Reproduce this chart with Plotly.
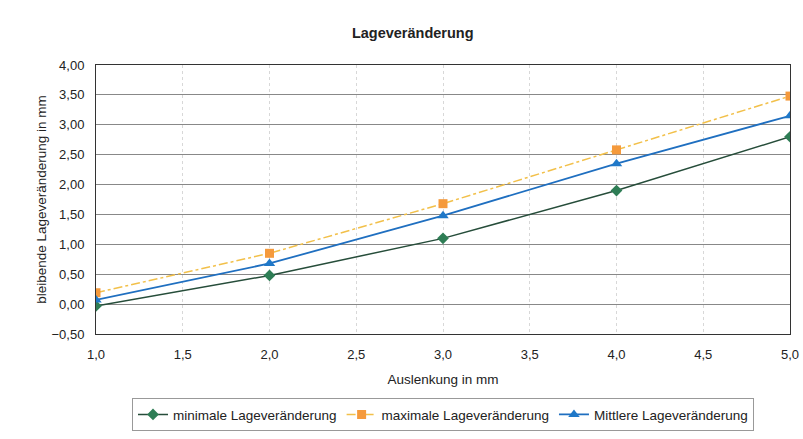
import plotly.graph_objects as go

auslenkung = [1.0, 2.0, 3.0, 4.0, 5.0]
minimal = [-0.03, 0.48, 1.10, 1.90, 2.80]
maximal = [0.19, 0.85, 1.68, 2.58, 3.48]
mittel = [0.07, 0.68, 1.48, 2.35, 3.15]

x_ticks = [1.0, 1.5, 2.0, 2.5, 3.0, 3.5, 4.0, 4.5, 5.0]
y_ticks = [-0.5, 0.0, 0.5, 1.0, 1.5, 2.0, 2.5, 3.0, 3.5, 4.0]

font = "Liberation Sans, Arial, sans-serif"

fig = go.Figure()
fig.add_trace(go.Scatter(
    x=auslenkung, y=minimal, name="minimale Lageveränderung", mode="lines+markers",
    line=dict(color="#264d3a", width=1.5),
    marker=dict(symbol="diamond", size=9, color="#2e7d55")))
fig.add_trace(go.Scatter(
    x=auslenkung, y=maximal, name="maximale Lageveränderung", mode="lines+markers",
    line=dict(color="#f2c04a", width=1.5, dash="dashdot"),
    marker=dict(symbol="square", size=9, color="#f59a3c")))
fig.add_trace(go.Scatter(
    x=auslenkung, y=mittel, name="Mittlere Lageveränderung", mode="lines+markers",
    line=dict(color="#1f6fc0", width=1.8),
    marker=dict(symbol="triangle-up", size=10, color="#1f78c8")))

fig.update_layout(
    width=803, height=439,
    margin=dict(l=96, r=13, t=65, b=105),
    paper_bgcolor="white", plot_bgcolor="white",
    separators=",.",
    font=dict(family=font, size=13, color="#222"),
    title=dict(text="<b>Lageveränderung</b>", x=0.514, xanchor="center",
               y=0.925, yanchor="middle", font=dict(size=14.5, color="#222")),
    showlegend=True,
    legend=dict(orientation="h", x=0.5, xanchor="center",
                yref="container", y=0.093, yanchor="top",
                bordercolor="#999", borderwidth=1, font=dict(size=13.5),
                tracegroupgap=0),
    xaxis=dict(range=[1.0, 5.0], tickvals=x_ticks, tickformat=".1f",
               showline=True, linecolor="#333", linewidth=1, mirror=True,
               showgrid=True, gridcolor="#d8d8d8", griddash="dot", gridwidth=1,
               ticks="", zeroline=False, automargin=False, ticklabelstandoff=8,
               tickfont=dict(size=13),
               title=dict(text="Auslenkung in mm", font=dict(size=13.5), standoff=13)),
    yaxis=dict(range=[-0.5, 4.0], tickvals=y_ticks, tickformat=".2f",
               showline=True, linecolor="#333", linewidth=1, mirror=True,
               showgrid=True, gridcolor="#888888", gridwidth=1,
               ticks="", zeroline=False, automargin=False, ticklabelstandoff=8,
               tickfont=dict(size=13),
               title=dict(text="bleibende Lageveränderung in mm", font=dict(size=13.5), standoff=1)),
)

fig.write_html("out.html", config={"displayModeBar": False},
               post_script="document.body.style.margin='0';")
